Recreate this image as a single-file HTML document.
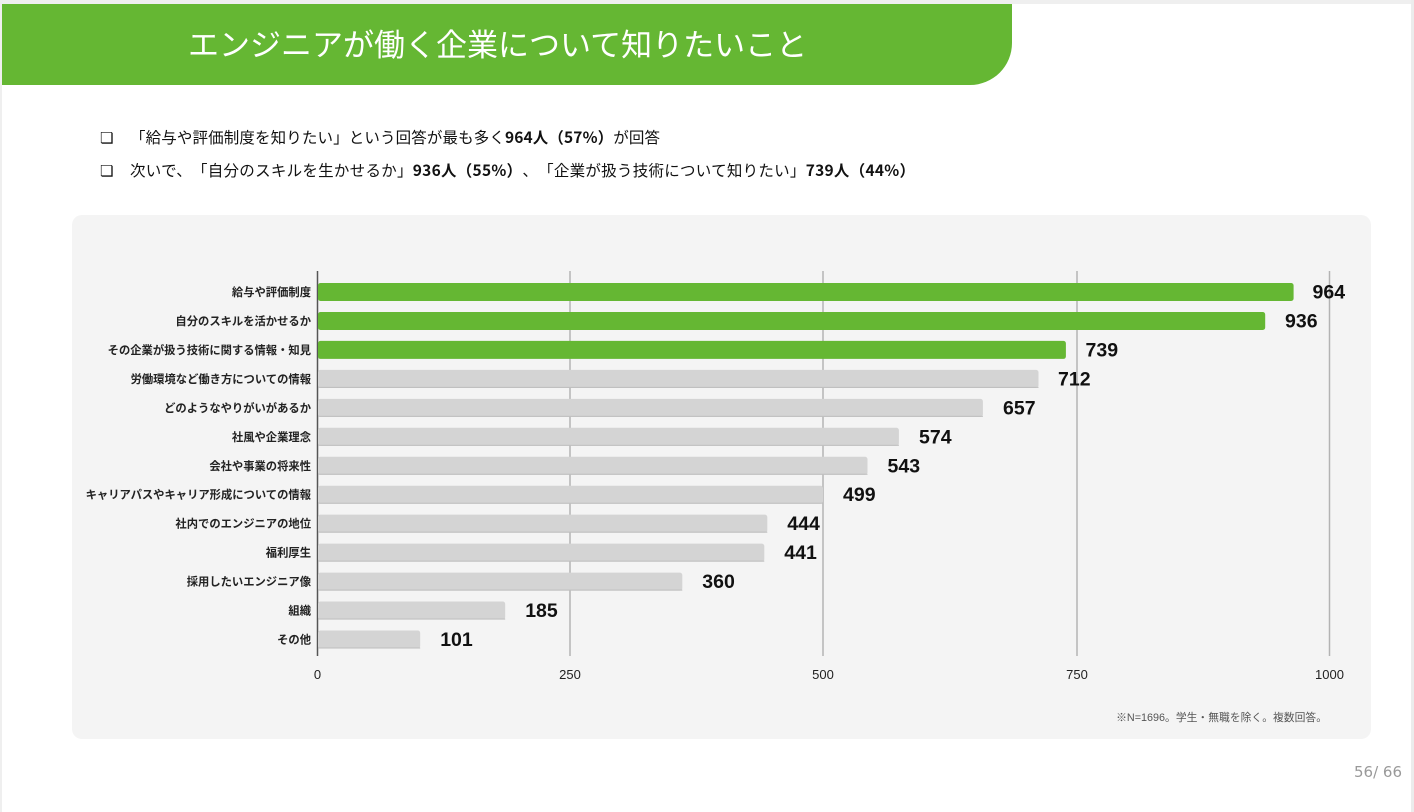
<!DOCTYPE html>
<html><head><meta charset="utf-8"><style>
html,body{margin:0;padding:0;background:#fff;}
body{width:1414px;height:812px;overflow:hidden;position:relative;}
svg{position:absolute;left:0;top:0;}
text{text-spacing-trim:space-all;}
</style></head><body>
<svg width="1414" height="812" viewBox="0 0 1414 812" xmlns="http://www.w3.org/2000/svg">
<rect x="0" y="0" width="1414" height="812" fill="#fff"/>
<rect x="0" y="0" width="1414" height="4" fill="#efefef"/>
<rect x="0" y="0" width="2" height="812" fill="#efefef"/>
<rect x="1411" y="0" width="3" height="812" fill="#ececec"/>
<path d="M2 4 H1012 V43 A42 42 0 0 1 970 85 H2 Z" fill="#65b733"/>
<text x="188" y="56" font-family="'Noto Sans CJK JP', sans-serif" font-size="31" fill="#fff">エンジニアが働く企業について知りたいこと</text>

<g font-family="'Noto Sans CJK JP',sans-serif" font-size="15.5" fill="#111">
<text x="100" y="143" font-family="'DejaVu Sans',sans-serif" font-size="15" font-weight="bold">❏</text>
<text x="130" y="143" textLength="530" lengthAdjust="spacing">「給与や評価制度を知りたい」という回答が最も多く<tspan font-weight="bold">964人（57%）</tspan>が回答</text>
<text x="100" y="176" font-family="'DejaVu Sans',sans-serif" font-size="15" font-weight="bold">❏</text>
<text x="130" y="176" textLength="785" lengthAdjust="spacing">次いで、「自分のスキルを生かせるか」<tspan font-weight="bold">936人（55%）</tspan>、「企業が扱う技術について知りたい」<tspan font-weight="bold">739人（44%）</tspan></text>
</g>

<rect x="72" y="215" width="1299" height="524" rx="10" fill="#f4f4f4"/>

<g stroke="#b3b3b3" stroke-width="1.5">
<line x1="570" y1="271" x2="570" y2="656"/>
<line x1="823" y1="271" x2="823" y2="656"/>
<line x1="1077" y1="271" x2="1077" y2="656"/>
<line x1="1329.5" y1="271" x2="1329.5" y2="656"/>
</g>
<line x1="317.5" y1="271" x2="317.5" y2="656" stroke="#555" stroke-width="1.5"/>

<g>
<rect x="318" y="283" width="975.6" height="18" rx="2.5" fill="#65b733"/>
<rect x="318" y="311.96" width="947.2" height="18" rx="2.5" fill="#65b733"/>
<rect x="318" y="340.92" width="747.9" height="18" rx="2.5" fill="#65b733"/>
<g fill="#d4d4d4">
<rect x="318" y="369.88" width="720.5" height="18" rx="2.5"/>
<rect x="318" y="398.84" width="664.9" height="18" rx="2.5"/>
<rect x="318" y="427.8" width="580.9" height="18" rx="2.5"/>
<rect x="318" y="456.76" width="549.5" height="18" rx="2.5"/>
<rect x="318" y="485.72" width="505" height="18" rx="2.5"/>
<rect x="318" y="514.68" width="449.3" height="18" rx="2.5"/>
<rect x="318" y="543.64" width="446.3" height="18" rx="2.5"/>
<rect x="318" y="572.6" width="364.3" height="18" rx="2.5"/>
<rect x="318" y="601.56" width="187.2" height="18" rx="2.5"/>
<rect x="318" y="630.52" width="102.2" height="18" rx="2.5"/>
</g>
<g fill="#bdbdbd">
<rect x="318" y="386.88" width="720.5" height="1"/>
<rect x="318" y="415.84" width="664.9" height="1"/>
<rect x="318" y="444.8" width="580.9" height="1"/>
<rect x="318" y="473.76" width="549.5" height="1"/>
<rect x="318" y="502.72" width="505" height="1"/>
<rect x="318" y="531.68" width="449.3" height="1"/>
<rect x="318" y="560.64" width="446.3" height="1"/>
<rect x="318" y="589.6" width="364.3" height="1"/>
<rect x="318" y="618.56" width="187.2" height="1"/>
<rect x="318" y="647.52" width="102.2" height="1"/>
</g>
</g>

<g font-family="'Noto Sans CJK JP',sans-serif" font-size="11.3" font-weight="bold" fill="#222" text-anchor="end">
<text x="311" y="296">給与や評価制度</text>
<text x="311" y="325">自分のスキルを活かせるか</text>
<text x="311" y="354">その企業が扱う技術に関する情報・知見</text>
<text x="311" y="383">労働環境など働き方についての情報</text>
<text x="311" y="412">どのようなやりがいがあるか</text>
<text x="311" y="440.8">社風や企業理念</text>
<text x="311" y="469.8">会社や事業の将来性</text>
<text x="311" y="498.7">キャリアパスやキャリア形成についての情報</text>
<text x="311" y="527.7">社内でのエンジニアの地位</text>
<text x="311" y="556.6">福利厚生</text>
<text x="311" y="585.6">採用したいエンジニア像</text>
<text x="311" y="614.6">組織</text>
<text x="311" y="643.5">その他</text>
</g>

<g font-family="'Liberation Sans',sans-serif" font-size="19.5" font-weight="bold" fill="#111">
<text x="1312.5" y="298.5">964</text>
<text x="1285" y="327.5">936</text>
<text x="1085.5" y="356.4">739</text>
<text x="1058" y="385.4">712</text>
<text x="1003" y="414.3">657</text>
<text x="919" y="443.3">574</text>
<text x="887.5" y="472.3">543</text>
<text x="843" y="501.2">499</text>
<text x="787.3" y="530.2">444</text>
<text x="784.3" y="559.1">441</text>
<text x="702.3" y="588.1">360</text>
<text x="525.2" y="617.1">185</text>
<text x="440.2" y="646">101</text>
</g>

<g font-family="'Liberation Sans',sans-serif" font-size="13" fill="#222" text-anchor="middle">
<text x="317.5" y="679">0</text>
<text x="570" y="679">250</text>
<text x="823" y="679">500</text>
<text x="1077" y="679">750</text>
<text x="1329.5" y="679">1000</text>
</g>

<text x="1327" y="721" text-anchor="end" font-family="'Liberation Sans','Noto Sans CJK JP',sans-serif" font-size="10.8" fill="#555">※N=1696。学生・無職を除く。複数回答。</text>
<text x="1402" y="777" text-anchor="end" font-family="'DejaVu Sans','Liberation Sans',sans-serif" font-size="15" fill="#999">56/ 66</text>
</svg>
</body></html>
